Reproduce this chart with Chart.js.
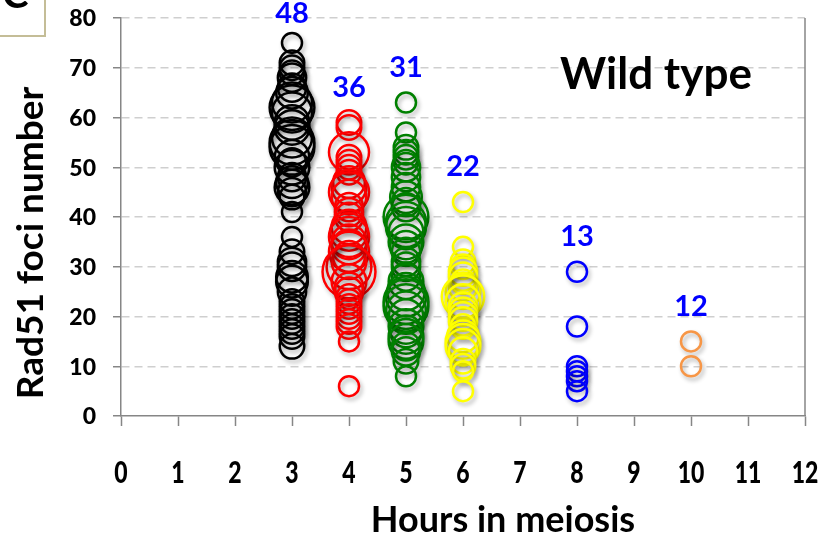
<!DOCTYPE html>
<html>
<head>
<meta charset="utf-8">
<script src="https://cdn.jsdelivr.net/npm/chart.js@4.4.0/dist/chart.umd.min.js"></script>
<style>
  html, body { margin: 0; padding: 0; background: #fff; }
  #wrap { width: 825px; height: 542px; }
</style>
</head>
<body>
<div id="wrap"><canvas id="foci" width="825" height="542"></canvas></div>
<script>
// Time points and number of cells scored
const hours = [3, 4, 5, 6, 8, 10];
const cellCounts = [48, 36, 31, 22, 13, 12];
const seriesColors = ['#000000', '#ff0000', '#008000', '#ffff00', '#0000ff', '#f79646'];
const xTicks = [0, 1, 2, 3, 4, 5, 6, 7, 8, 9, 10, 11, 12];
const yTicks = [0, 10, 20, 30, 40, 50, 60, 70, 80];

// Rad51 foci per cell (value) and bubble size for each time point
const foci3h = [75, 71, 70, 69, 68, 66, 65, 63, 62, 61, 59, 58, 56, 55, 54, 52, 51, 50, 48, 47, 46, 45, 44, 41, 36, 33, 31, 30, 28, 27, 25, 23, 22, 21, 20, 19, 18, 17, 16, 14];
const size3h = [1, 1.5, 1.5, 1.5, 2, 2, 2.5, 4, 5, 4, 3, 3, 4, 5, 5, 3, 2, 3, 2, 2.5, 3, 2, 1.5, 1, 1, 1.5, 2, 2, 2.5, 2.5, 2, 1.5, 1.5, 1.5, 1.5, 1.5, 1.5, 1.5, 1.5, 1.5];
const foci4h = [59, 58, 53, 52, 51, 50, 49, 47, 46, 45, 44, 42, 41, 40, 38, 37, 36, 35, 34, 33, 32, 31, 30, 29, 27, 26, 25, 24, 23, 22, 21, 20, 19, 18, 15, 6];
const size4h = [1.5, 1.5, 4, 1.5, 1.5, 1.5, 1.5, 2.5, 3, 4, 3, 2, 2, 2, 3, 3.5, 4, 3, 3, 4, 2.5, 3, 5, 7, 3, 2, 2, 1.5, 1.5, 1.5, 1.5, 1.5, 1.5, 1.5, 1, 1];
const foci5h = [63, 57, 54, 53, 52, 51, 50, 48, 46, 44, 43, 42, 40, 39, 38, 37, 35, 34, 33, 31, 30, 28, 27, 25, 24, 23, 22, 21, 20, 18, 17, 16, 15, 14, 13, 11, 8];
const size5h = [1, 1, 1.5, 1.5, 1.5, 1.5, 2, 2, 2, 2.5, 2, 2, 5, 4, 4, 3, 3, 2.5, 2, 2, 2, 2, 3, 3.5, 4, 5, 5, 4, 3, 3, 2.5, 3, 3, 2, 2, 1.5, 1];
const foci6h = [43, 34, 31, 30, 29, 28, 27, 26, 25, 24, 23, 22, 21, 20, 19, 18, 16, 15, 14, 13, 11, 10, 9, 5];
const size6h = [1, 1, 1.5, 1.5, 2, 2, 1.5, 2, 3, 4.5, 3, 2, 2, 2, 2, 1.5, 2.5, 3, 3, 2, 1.5, 1.5, 1, 1];
const foci8h = [29, 18, 10, 9, 8, 7, 5];
const size8h = [1, 1, 1, 1, 1, 1, 1];
const foci10h = [15, 10];
const size10h = [1, 1];

const fociByHour = [foci3h, foci4h, foci5h, foci6h, foci8h, foci10h];
const sizeByHour = [size3h, size4h, size5h, size6h, size8h, size10h];

const datasets = hours.map((h, i) => ({
  data: fociByHour[i].map((v, j) => ({ x: h, y: v, r: 10 * Math.sqrt(sizeByHour[i][j]) })),
  borderColor: seriesColors[i],
  backgroundColor: 'rgba(0,0,0,0)',
  borderWidth: 2.5,
  hoverRadius: 0,
  hoverBorderWidth: 2.5
}));

const axisGray = '#868686';

// shadows under the bubbles, tick labels, titles and panel tag
const extras = {
  id: 'extras',
  beforeDatasetsDraw(chart) {
    const ctx = chart.ctx;
    ctx.save();
    ctx.shadowColor = 'rgba(0,0,0,0.3)';
    ctx.shadowBlur = 4;
    ctx.shadowOffsetX = 2;
    ctx.shadowOffsetY = 3;
  },
  afterDatasetsDraw(chart) {
    chart.ctx.restore();
  },
  afterDraw(chart) {
    const { ctx, chartArea } = chart;
    const x = chart.scales.x;
    const y = chart.scales.y;
    ctx.save();

    // right frame line
    ctx.strokeStyle = axisGray;
    ctx.lineWidth = 1.5;
    ctx.beginPath();
    ctx.moveTo(chartArea.right, chartArea.top);
    ctx.lineTo(chartArea.right, chartArea.bottom);
    ctx.stroke();

    // y tick labels
    ctx.fillStyle = '#000';
    ctx.textAlign = 'right';
    ctx.textBaseline = 'middle';
    ctx.font = '900 23px Lato';
    y.ticks.forEach(t => {
      ctx.fillText(String(t.value), chartArea.left - 25, y.getPixelForValue(t.value) + 1);
    });

    // x tick labels (tall lettering)
    ctx.textAlign = 'center';
    x.ticks.forEach(t => {
      ctx.save();
      ctx.translate(x.getPixelForValue(t.value), 473);
      ctx.scale(1, 1.3);
      ctx.fillText(String(t.value), 0, 0);
      ctx.restore();
    });

    // axis titles
    ctx.font = 'bold 36px Lato';
    ctx.fillText('Hours in meiosis', 503, 520);
    ctx.save();
    ctx.translate(31, 243);
    ctx.rotate(-Math.PI / 2);
    ctx.font = 'bold 37px Lato';
    ctx.fillText('Rad51 foci number', 0, 0);
    ctx.restore();

    // number of cells above each column
    ctx.fillStyle = '#0000ff';
    ctx.font = 'bold 29px Lato';
    hours.forEach((h, i) => {
      const top = Math.max(...fociByHour[i]);
      const py = Math.max(14, y.getPixelForValue(top) - 35);
      ctx.fillText(String(cellCounts[i]), x.getPixelForValue(h), py);
    });

    ctx.fillStyle = '#000';
    ctx.font = 'bold 44px Lato';
    ctx.fillText('Wild type', 656, 75);

    // panel tag
    ctx.strokeStyle = '#c4bd97';
    ctx.lineWidth = 2;
    ctx.strokeRect(-2, -2, 47, 38);
    ctx.font = 'bold 40px Lato';
    ctx.textAlign = 'left';
    ctx.textBaseline = 'alphabetic';
    ctx.fillText('C', 2, 8);

    ctx.restore();
  }
};

new Chart(document.getElementById('foci'), {
  type: 'bubble',
  data: { datasets },
  plugins: [extras],
  options: {
    responsive: false,
    animation: false,
    events: [],
    layout: { autoPadding: false, padding: { top: 18, right: 20, left: 0, bottom: 0 } },
    plugins: { legend: { display: false }, tooltip: { enabled: false } },
    scales: {
      x: {
        type: 'linear',
        min: 0,
        max: 12,
        afterBuildTicks: s => { s.ticks = xTicks.map(v => ({ value: v })); },
        afterFit: s => { s.height = 126; },
        ticks: { display: false },
        grid: { drawOnChartArea: false, drawTicks: true, tickLength: 10, tickColor: axisGray, tickWidth: 1.5 },
        border: { color: axisGray, width: 1.5 }
      },
      y: {
        type: 'linear',
        min: 0,
        max: 80,
        afterBuildTicks: s => { s.ticks = yTicks.map(v => ({ value: v })); },
        afterFit: s => { s.width = 121; },
        ticks: { display: false },
        grid: {
          color: c => (c.tick && c.tick.value === 0 ? 'rgba(0,0,0,0)' : '#cfcfcf'),
          lineWidth: 1.5,
          drawTicks: true,
          tickLength: 8,
          tickColor: axisGray,
          tickWidth: 1.5
        },
        border: { color: axisGray, width: 1.5, dash: [8, 5] }
      }
    }
  }
});
</script>
</body>
</html>
